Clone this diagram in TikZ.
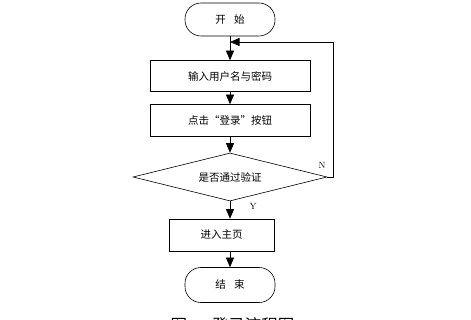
\documentclass[tikz,border=0pt]{standalone}
\usepackage{fontspec}
\newfontfamily\cjk{Noto Sans CJK SC}
\usetikzlibrary{arrows.meta,shapes.geometric}

\tikzset{
  terminal/.style={draw,rounded corners=16pt,minimum width=90pt,minimum height=33pt,
    inner sep=0pt,font=\cjk\fontsize{10.5}{12}\selectfont},
  procbox/.style={draw,minimum width=160pt,minimum height=31pt,inner sep=0pt,
    font=\cjk\fontsize{10.5}{12}\selectfont},
  decision/.style={draw,diamond,aspect=4,minimum width=194pt,minimum height=48pt,
    inner sep=0pt,font=\cjk\fontsize{10.5}{12}\selectfont},
  flow/.style={-{Triangle[length=9.5pt,width=8pt]}},
  yesno/.style={font=\fontsize{9}{10}\selectfont,inner sep=0pt}
}

\begin{document}
\begin{tikzpicture}[x=1pt,y=-1pt,line width=0.6pt]
  \useasboundingbox (0,0) rectangle (471,320);

  \node[terminal] (start) at (230,19.5) {开\hspace{0.8em}始};
  \node[procbox] (input) at (230,76) {输入用户名与密码};
  \node[procbox,minimum height=32pt] (click) at (230,120.5) {点击“登录”按钮};
  \node[decision] (check) at (230,177) {是否通过验证};
  \node[procbox,minimum width=105pt,minimum height=32pt] (home) at (221.5,235) {进入主页};
  \node[terminal,minimum height=35pt] (end) at (230,285) {结\hspace{0.8em}束};

  \coordinate (entry) at (230,42);
  \coordinate (loop) at (333,42);

  \draw[flow] (start.south) -- (input.north);
  \draw[flow] (input.south) -- (click.north);
  \draw[flow] (click.south) -- (check.north);
  \draw[flow] (check.south) -- (check.south |- home.north);
  \draw[flow] (check.south |- home.south) -- (end.north);
  \draw[flow] (check.east) -| (loop) -- (entry);

  \node[yesno] (nlabel) at (322,165.5) {N};
  \node[yesno] (ylabel) at (253,206) {Y};

  \node[anchor=north,inner sep=0pt,font=\cjk\fontsize{16.5}{17}\selectfont] (caption)
    at (232.5,317) {图\hspace{25pt}登录流程图};
\end{tikzpicture}
\end{document}
